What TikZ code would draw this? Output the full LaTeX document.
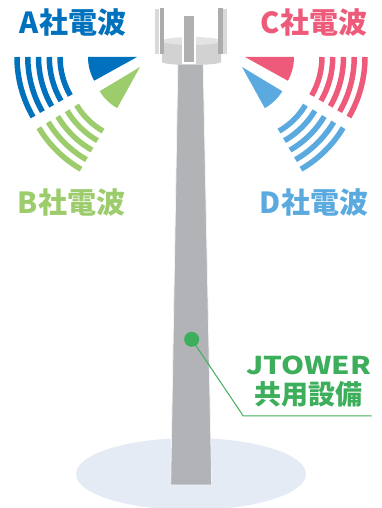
\documentclass[tikz,border=0pt]{standalone}
\usepackage{fontspec}
\newfontfamily\jpfont{Noto Sans CJK JP}
\usepackage{xcolor}
\usetikzlibrary{positioning}

\definecolor{waveA}{HTML}{0071BC}
\definecolor{waveB}{HTML}{9CCC6C}
\definecolor{waveC}{HTML}{EE5A79}
\definecolor{waveD}{HTML}{5AAADF}
\definecolor{jtgreen}{HTML}{3DAE5B}
\definecolor{towergray}{HTML}{B2B3B7}
\definecolor{ground}{HTML}{E5EBF5}

\begin{document}
\begin{tikzpicture}[x=1pt, y=1pt,
    wave/.style={line width=5.5pt},
    company/.style={font=\jpfont\bfseries\fontsize{29}{29}\selectfont, inner sep=0pt},
    callout/.style={font=\jpfont\bfseries\fontsize{#1}{#1}\selectfont, inner sep=0pt, text=jtgreen},
    panel/.style={fill=#1, draw=none}
]
    \useasboundingbox (0,0) rectangle (381,508);

    % ground shadow
    \fill[ground] (191,34) ellipse [x radius=115, y radius=36];

    % tower shaft
    \fill[towergray, draw=white!85!towergray, line width=0.8pt]
        (178,452) -- (203,452) -- (211.7,23) -- (170.7,23) -- cycle;

    % antenna disk
    \fill[gray!35] (162,467) -- (162,446) arc[start angle=180, end angle=360, x radius=29.5, y radius=3]
        -- (221,467) -- cycle;
    \fill[gray!22] (191.5,467) ellipse [x radius=29.5, y radius=4];

    % side panels
    \fill[panel=gray!30] (155,454) rectangle (159,499);
    \fill[panel=gray!65] (159.5,454) rectangle (164,500);
    \fill[panel=gray!65] (218,454) rectangle (222.5,500);
    \fill[panel=gray!30] (223,454) rectangle (227,499);

    % front panel
    \filldraw[fill=gray!62, draw=white, line width=1.3pt] (183,445) rectangle (195,493);

    % A waves
    \fill[waveA] (137,451) -- ++(180:49) arc[start angle=180, end angle=209, radius=49] -- cycle;
    \foreach \r in {77,87.75,98.5,109.25,120}
        \draw[wave, waveA] (137,451) ++(180:\r) arc[start angle=180, end angle=210, radius=\r];

    % B waves
    \fill[waveB] (140,441) -- ++(211:47) arc[start angle=211, end angle=241, radius=47] -- cycle;
    \foreach \r in {74,85,96,107,118}
        \draw[wave, waveB] (140,441) ++(211:\r) arc[start angle=211, end angle=240, radius=\r];

    % C waves
    \fill[waveC] (245,451) -- ++(0:49) arc[start angle=0, end angle=-29, radius=49] -- cycle;
    \foreach \r in {77,87.75,98.5,109.25,120}
        \draw[wave, waveC] (245,451) ++(0:\r) arc[start angle=0, end angle=-30, radius=\r];

    % D waves
    \fill[waveD] (242,441) -- ++(-31:47) arc[start angle=-31, end angle=-61, radius=47] -- cycle;
    \foreach \r in {74,85,96,107,118}
        \draw[wave, waveD] (242,441) ++(-31:\r) arc[start angle=-31, end angle=-60, radius=\r];

    % company labels
    \node[company, text=waveA] (labelA) at (73,485.5) {A社電波};
    \node[company, text=waveC] (labelC) at (314,485.5) {C社電波};
    \node[company, text=waveB] (labelB) at (71.5,305.5) {B社電波};
    \node[company, text=waveD] (labelD) at (314,305.5) {D社電波};

    % shared facility callout
    \node[circle, fill=jtgreen, minimum size=15pt, inner sep=0pt] (spot) at (191.7,168.7) {};
    \node[callout=24.5] (jtower) at (308.5,142.5) {\scalebox{1.2}[1]{JTOWER}};
    \node[callout=27] (kyoyo) at (308.5,113.5) {共用設備};
    \coordinate (bend) at (243.3,92);
    \coordinate (tail) at (371.7,92);
    \draw[jtgreen, line width=1pt] (spot.center) -- (bend) -- (tail);
\end{tikzpicture}
\end{document}
